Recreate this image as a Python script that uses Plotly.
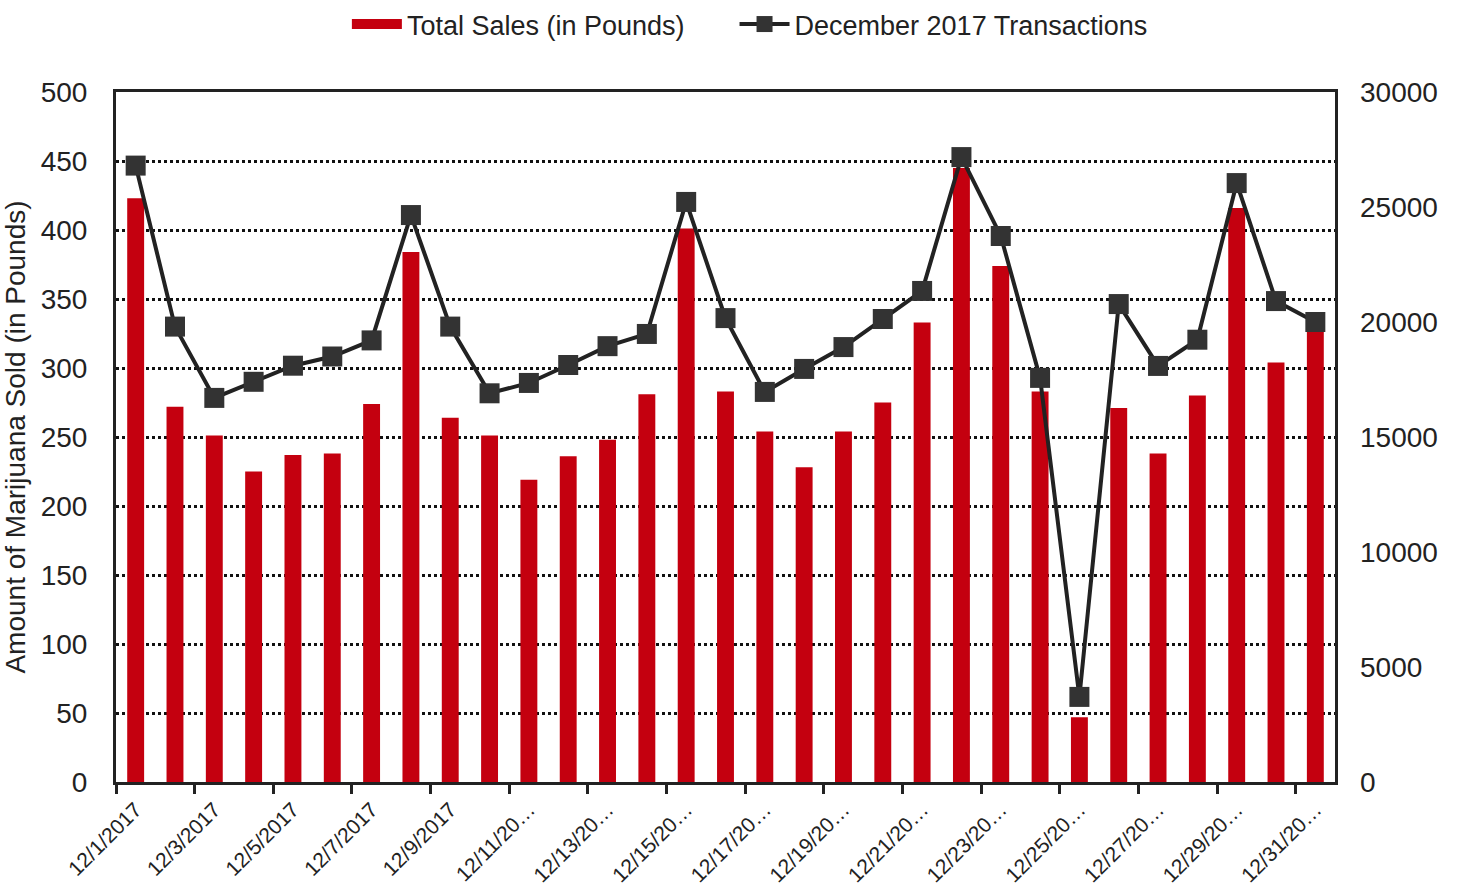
import plotly.graph_objects as go

dates = [f"12/{d}/2017" for d in range(1, 32)]
sales_lbs = [423, 272, 251, 225, 237, 238, 274, 384, 264, 251, 219, 236, 248, 281, 401,
             283, 254, 228, 254, 275, 333, 445, 374, 283, 47, 271, 238, 280, 416, 304, 326]
transactions = [26800, 19800, 16700, 17400, 18100, 18500, 19200, 24650, 19800, 16900,
                17350, 18130, 18950, 19480, 25220, 20170, 16960, 17960, 18910, 20130,
                21350, 27170, 23740, 17570, 3700, 20780, 18090, 19230, 26040, 20910, 20000]
tick_labels = ["12/1/2017", "12/3/2017", "12/5/2017", "12/7/2017", "12/9/2017",
               "12/11/20…", "12/13/20…", "12/15/20…", "12/17/20…", "12/19/20…",
               "12/21/20…", "12/23/20…", "12/25/20…", "12/27/20…", "12/29/20…",
               "12/31/20…"]

FONT = "Liberation Sans Narrow, Arial Narrow, Liberation Sans, Arial, sans-serif"
BAR_RED = "#C4000F"
idx = list(range(len(dates)))
boundaries = [i - 0.5 for i in idx[::2]]
NBSP_PAD = "\u00a0" * 6  # spacing between the two legend entries

fig = go.Figure()
fig.add_trace(go.Bar(
    x=idx, y=sales_lbs, name="Total Sales (in Pounds)", showlegend=False,
    marker=dict(color=BAR_RED, line=dict(width=0)), width=0.43,
    hovertext=dates, yaxis="y"))
# legend swatch for the bar series (wide red block like the reference)
fig.add_trace(go.Scatter(
    x=[None], y=[None], name="Total Sales (in Pounds)" + NBSP_PAD, mode="lines",
    line=dict(color=BAR_RED, width=14), yaxis="y"))
fig.add_trace(go.Scatter(
    x=idx, y=transactions, name="December 2017 Transactions", mode="lines+markers",
    line=dict(color="#222222", width=4),
    marker=dict(symbol="square", size=20, color="#333333"),
    hovertext=dates, yaxis="y2"))

fig.update_layout(
    width=1458, height=888,
    margin=dict(l=116, r=123, t=92, b=106),
    paper_bgcolor="white", plot_bgcolor="white",
    font=dict(family=FONT, color="#222222", size=28),
    showlegend=True,
    legend=dict(orientation="h", x=0.52, xanchor="center",
                yref="container", y=1.0, yanchor="top",
                font=dict(size=27, family=FONT), itemwidth=50,
                bgcolor="rgba(0,0,0,0)"),
    xaxis=dict(
        range=[-0.5, len(dates) - 0.5], automargin=False,
        tickmode="array", tickvals=idx[::2], ticktext=tick_labels,
        tickangle=-45, ticks="", showgrid=False, zeroline=False,
        showline=True, linecolor="#222222", linewidth=3, mirror=True,
        tickfont=dict(size=21, family=FONT), ticklabelstandoff=4,
        minor=dict(tickmode="array", tickvals=boundaries,
                   ticks="outside", ticklen=9, tickwidth=3, tickcolor="#222222",
                   showgrid=False),
    ),
    yaxis=dict(
        range=[0, 500], dtick=50, tickmode="linear", tick0=0, automargin=False,
        showgrid=True, gridcolor="#111111", gridwidth=3, griddash="dot",
        zeroline=False, showline=True, linecolor="#222222", linewidth=3, mirror=True,
        ticks="", ticklabelstandoff=20,
        tickfont=dict(size=28, family=FONT),
        title=dict(text="Amount of Marijuana Sold (in Pounds)",
                   font=dict(size=28, family=FONT), standoff=18),
    ),
    yaxis2=dict(
        range=[0, 30000], dtick=5000, tickmode="linear", tick0=0, automargin=False,
        tickformat="d",
        overlaying="y", side="right", showgrid=False, zeroline=False,
        showline=False, ticks="", ticklabelstandoff=24,
        tickfont=dict(size=28, family=FONT),
    ),
)

fig.write_html(
    "out.html",
    config={"displayModeBar": False},
    post_script="document.body.style.margin='0';document.body.style.overflow='hidden';",
)
